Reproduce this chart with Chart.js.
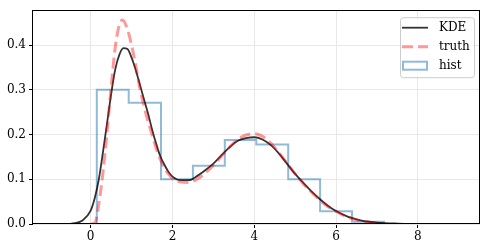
<!DOCTYPE html>
<html lang="en">
<head>
<meta charset="UTF-8">
<script src="https://cdn.jsdelivr.net/npm/chart.js@4.4.1/dist/chart.umd.min.js"></script>
<title>KDE vs truth</title>
<style>
  html, body { margin: 0; padding: 0; background: #fff; }
</style>
</head>
<body>
<canvas id="myChart" width="486" height="251"></canvas>
<script>
// values
const kdeX = [-0.9, -0.6, -0.4, -0.2, 0.0, 0.1, 0.2, 0.3, 0.4, 0.5, 0.6, 0.7, 0.8, 0.9, 1.0,
  1.1, 1.2, 1.3, 1.4, 1.5, 1.6, 1.7, 1.8, 1.9, 2.0, 2.2, 2.4, 2.6, 2.8, 3.0, 3.2, 3.4, 3.6,
  3.8, 4.0, 4.2, 4.4, 4.6, 4.8, 5.0, 5.2, 5.4, 5.6, 5.8, 6.0, 6.2, 6.4, 6.6, 6.8, 7.0, 7.5, 8.0, 9.0];
const kdeY = [0.000, 0.000, 0.002, 0.008, 0.030, 0.058, 0.100, 0.160, 0.225, 0.290, 0.345, 0.378, 0.393, 0.391, 0.372,
  0.345, 0.313, 0.280, 0.248, 0.212, 0.180, 0.152, 0.133, 0.117, 0.106, 0.098, 0.098, 0.107, 0.120, 0.135, 0.154, 0.172, 0.186,
  0.192, 0.194, 0.189, 0.177, 0.158, 0.135, 0.112, 0.092, 0.073, 0.056, 0.041, 0.029, 0.020, 0.013, 0.008, 0.005, 0.003, 0.001, 0.0003, 0.000];

const truthX = [0.0, 0.1, 0.2, 0.3, 0.4, 0.5, 0.6, 0.7, 0.78, 0.9, 1.0, 1.1, 1.2, 1.3, 1.4, 1.5, 1.6,
  1.7, 1.8, 1.9, 2.0, 2.2, 2.4, 2.6, 2.8, 3.0, 3.2, 3.4, 3.6, 3.8, 4.0, 4.2, 4.4, 4.6, 4.8,
  5.0, 5.2, 5.4, 5.6, 5.8, 6.0, 6.2, 6.4, 6.6, 6.8, 7.0];
const truthY = [0.000, 0.002, 0.045, 0.115, 0.205, 0.305, 0.395, 0.445, 0.456, 0.435, 0.400, 0.355, 0.305, 0.265, 0.230, 0.200, 0.170,
  0.145, 0.125, 0.112, 0.102, 0.094, 0.093, 0.100, 0.114, 0.131, 0.152, 0.172, 0.189, 0.199, 0.202, 0.196, 0.181, 0.160, 0.136,
  0.112, 0.090, 0.071, 0.054, 0.039, 0.028, 0.019, 0.012, 0.007, 0.004, 0.002];

const binEdges = [0.15, 0.93, 1.72, 2.50, 3.28, 4.05, 4.83, 5.61, 6.39, 7.17];
const binHeights = [0.300, 0.271, 0.100, 0.130, 0.188, 0.178, 0.100, 0.0285, 0.005];

const seriesNames = ['KDE', 'truth', 'hist'];
const xTicks = [0, 2, 4, 6, 8];
const yTicks = [0.0, 0.1, 0.2, 0.3, 0.4];

const FONT = '"DejaVu Serif", serif';

const kdePts = kdeX.map((x, i) => ({x: x, y: kdeY[i]}));
const truthPts = truthX.map((x, i) => ({x: x, y: truthY[i]}));
// step outline of the histogram: up at the first edge, across each bin, down at the last edge
const histPts = [{x: binEdges[0], y: 0}];
binHeights.forEach((h, i) => histPts.push({x: binEdges[i], y: h}));
histPts.push({x: binEdges[binEdges.length - 1], y: 0});

const frameAndLegend = {
  id: 'frameAndLegend',
  afterDraw(chart) {
    const ctx = chart.ctx;
    const a = chart.chartArea;
    ctx.save();
    // frame
    ctx.strokeStyle = '#000';
    ctx.lineWidth = 1;
    ctx.strokeRect(Math.round(a.left) - 0.5, Math.round(a.top) + 0.5,
      Math.round(a.right - a.left), Math.round(a.bottom - a.top) - 1);

    // legend box
    const bw = 74, bh = 60;
    const bx = a.right - 6 - bw, by = a.top + 7;
    ctx.beginPath();
    ctx.roundRect(bx + 0.5, by + 0.5, bw, bh, 3);
    ctx.fillStyle = 'rgba(255,255,255,0.8)';
    ctx.fill();
    ctx.strokeStyle = '#cccccc';
    ctx.stroke();

    const ds = chart.data.datasets;
    const lx0 = bx + 2, lx1 = bx + 28, tx = bx + 39;
    ctx.font = '12px ' + FONT;
    ctx.textBaseline = 'middle';
    ctx.fillStyle = '#000';
    ds.forEach((d, i) => {
      const yy = by + 10.5 + i * 19;
      ctx.strokeStyle = d.borderColor;
      ctx.lineWidth = d.borderWidth;
      ctx.setLineDash(d.borderDash || []);
      if (i === 2) {
        ctx.strokeRect(lx0 + 1, yy - 4, lx1 - lx0 - 2, 8);
      } else {
        ctx.beginPath();
        ctx.moveTo(lx0, yy);
        ctx.lineTo(lx1, yy);
        ctx.stroke();
      }
      ctx.setLineDash([]);
      ctx.fillText(d.label, tx, yy);
    });
    ctx.restore();
  }
};

let myChart = new Chart(document.getElementById('myChart').getContext('2d'), {
  type: 'scatter',
  data: {
    datasets: [
      {
        label: seriesNames[0],
        data: kdePts,
        showLine: true,
        borderColor: 'rgba(0,0,0,0.8)',
        borderWidth: 1.8,
        pointRadius: 0,
        cubicInterpolationMode: 'monotone',
        order: 1
      },
      {
        label: seriesNames[1],
        data: truthPts,
        showLine: true,
        borderColor: 'rgba(255,0,0,0.4)',
        borderWidth: 3,
        borderDash: [11, 5],
        pointRadius: 0,
        cubicInterpolationMode: 'monotone',
        order: 0
      },
      {
        label: seriesNames[2],
        data: histPts,
        showLine: true,
        stepped: 'before',
        borderColor: 'rgba(31,119,180,0.5)',
        borderWidth: 2,
        pointRadius: 0,
        order: 2
      }
    ]
  },
  options: {
    responsive: false,
    animation: false,
    layout: {padding: {left: 0, top: 6, right: 6, bottom: 0}},
    plugins: {legend: {display: false}, tooltip: {enabled: false}},
    scales: {
      x: {
        type: 'linear',
        min: -1.41,
        max: 9.52,
        afterBuildTicks: s => { s.ticks = xTicks.map(v => ({value: v})); },
        afterFit: s => { s.height = 27; },
        grid: {color: '#e8e8e8', tickColor: '#000', tickLength: 4},
        border: {display: false},
        ticks: {
          color: '#000',
          font: {family: FONT, size: 12},
          padding: 2,
          maxRotation: 0,
          callback: v => String(v)
        }
      },
      y: {
        type: 'linear',
        min: 0,
        max: 0.478,
        afterBuildTicks: s => { s.ticks = yTicks.map(v => ({value: v})); },
        afterFit: s => { s.width = 33; },
        grid: {color: '#e8e8e8', tickColor: '#000', tickLength: 4},
        border: {display: false},
        ticks: {
          color: '#000',
          font: {family: FONT, size: 12},
          padding: 3,
          callback: v => Number(v).toFixed(1)
        }
      }
    }
  },
  plugins: [frameAndLegend]
});
</script>
</body>
</html>
